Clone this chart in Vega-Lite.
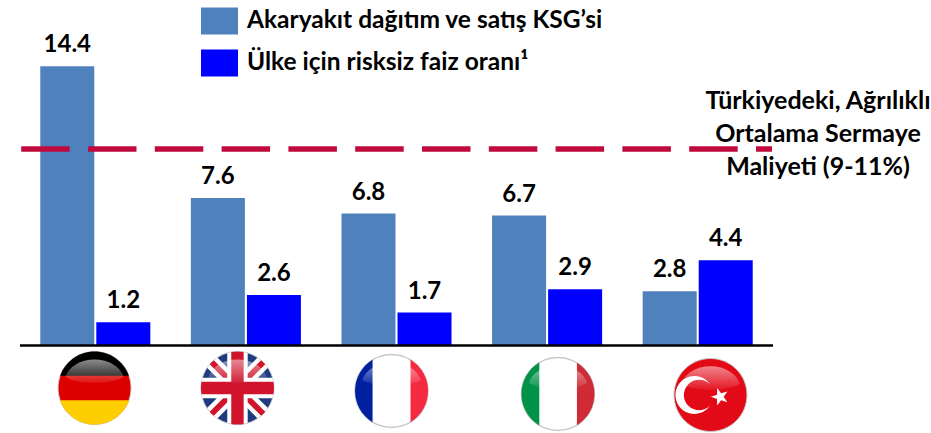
{
"$schema":"https://vega.github.io/schema/vega-lite/v6.json",
"width":753,"height":433,
"autosize":"none",
"padding":{"left":20,"right":158,"top":0,"bottom":0},
"background":"white",
"config":{"view":{"stroke":null},"text":{"font":"Lato"},"legend":{"labelFont":"Lato"}},
"datasets":{
"bars":[
{"country":"Almanya","series":"Akaryakıt dağıtım ve satış KSG’si","value":14.4},
{"country":"Almanya","series":"Ülke için risksiz faiz oranı¹","value":1.2},
{"country":"Birleşik Krallık","series":"Akaryakıt dağıtım ve satış KSG’si","value":7.6},
{"country":"Birleşik Krallık","series":"Ülke için risksiz faiz oranı¹","value":2.6},
{"country":"Fransa","series":"Akaryakıt dağıtım ve satış KSG’si","value":6.8},
{"country":"Fransa","series":"Ülke için risksiz faiz oranı¹","value":1.7},
{"country":"İtalya","series":"Akaryakıt dağıtım ve satış KSG’si","value":6.7},
{"country":"İtalya","series":"Ülke için risksiz faiz oranı¹","value":2.9},
{"country":"Türkiye","series":"Akaryakıt dağıtım ve satış KSG’si","value":2.8},
{"country":"Türkiye","series":"Ülke için risksiz faiz oranı¹","value":4.4}
]},
"layer":[
{"data":{"name":"bars"},
"mark":{"type":"bar"},
"encoding":{
"x":{"field":"country","type":"nominal","axis":null,"scale":{"type":"band","domain":["Almanya","Birleşik Krallık","Fransa","İtalya","Türkiye"],"paddingInner":0,"paddingOuter":0}},
"xOffset":{"field":"series","type":"nominal","scale":{"domain":["Akaryakıt dağıtım ve satış KSG’si","Ülke için risksiz faiz oranı¹"],"paddingInner":0.036,"paddingOuter":0.362}},
"y":{"field":"value","type":"quantitative","stack":null,"axis":null,"scale":{"domain":[-4.51,17.81],"nice":false,"zero":false}},
"color":{"field":"series","type":"nominal","scale":{"domain":["Akaryakıt dağıtım ve satış KSG’si","Ülke için risksiz faiz oranı¹"],"range":["#4F81BD","#0000FF"]},
"legend":{"title":null,"orient":"none","legendX":181,"legendY":6,"symbolType":"M-1,-0.73H1V0.73H-1Z","symbolSize":1369,"symbolStrokeWidth":0,"symbolOpacity":1,"labelFontSize":24.5,"labelFontWeight":"bold","labelColor":"#000000","labelFont":"Lato","labelLimit":500,"labelOffset":9,"rowPadding":12,"clipHeight":30}}
}},
{"data":{"name":"bars"},
"mark":{"type":"text","font":"Lato","fontWeight":"bold","fontSize":24,"color":"#000000","baseline":"middle","dy":-21},
"encoding":{
"x":{"field":"country","type":"nominal"},
"xOffset":{"field":"series","type":"nominal"},
"y":{"field":"value","type":"quantitative","stack":null},
"text":{"field":"value","type":"quantitative","format":".1f"}
}},
{"data":{"values":[{"level":0}]},
"mark":{"type":"rule","color":"#000000","strokeWidth":2.5},
"encoding":{"y":{"field":"level","type":"quantitative"}}},
{"data":{"values":[{"level":10.13}]},
"mark":{"type":"rule","color":"#C00A3E","strokeWidth":5.5,"strokeDash":[0,1,16,18.3,48.5,18.3,48.5,18.3,48.5,18.3,48.5,18.3,48.5,18.3,48.5,18.3,48.5,18.3,48.5,18.3,48.5,18.3,48.5,18.3,48.5,18.3]},
"encoding":{"y":{"field":"level","type":"quantitative"}}},
{"data":{"values":[{"country":"Türkiye","level":12.62}]},
"mark":{"type":"text","font":"Lato","fontWeight":"bold","fontSize":25,"color":"#000000","align":"center","baseline":"middle","lineHeight":33,"dx":45,
"text":["Türkiyedeki, Ağrılıklı","Ortalama Sermaye","Maliyeti (9-11%)"]},
"encoding":{"x":{"field":"country","type":"nominal","bandPosition":1},"y":{"field":"level","type":"quantitative"}}},

{"data":{"values":[{"country":"Almanya","level":-2.19}]},
"encoding":{"x":{"field":"country","type":"nominal","bandPosition":0.495},"y":{"field":"level","type":"quantitative"}},
"layer":[
{"mark":{"type":"point","shape":"M-1,0 A1,1 0 1 1 1,0 A1,1 0 1 1 -1,0 Z","size":5329,"filled":true,"opacity":1,"fill":"#DD0000","stroke":"#c8c8c8","strokeWidth":1}},
{"mark":{"type":"point","shape":"M-0.943,-0.333 A1,1 0 0 1 0.943,-0.333 Z","size":5329,"filled":true,"opacity":1,"fill":"#000000","strokeWidth":0}},
{"mark":{"type":"point","shape":"M-0.943,0.333 A1,1 0 0 0 0.943,0.333 Z","size":5329,"filled":true,"opacity":1,"fill":"#FFCE00","strokeWidth":0}},
{"mark":{"type":"point","shape":"M-0.8,-0.3 A0.82,0.62 0 0 1 0.8,-0.3 A0.9,0.3 0 0 1 -0.8,-0.3 Z","size":5329,"filled":true,"opacity":1,"strokeWidth":0,"fill":{"gradient":"linear","x1":0,"y1":0,"x2":0,"y2":1,"stops":[{"offset":0,"color":"rgba(255,255,255,0.55)"},{"offset":1,"color":"rgba(255,255,255,0.08)"}]}}}
]},

{"data":{"values":[{"country":"Birleşik Krallık","level":-2.19}]},
"encoding":{"x":{"field":"country","type":"nominal","bandPosition":0.444},"y":{"field":"level","type":"quantitative"}},
"layer":[
{"mark":{"type":"point","shape":"M-1,0 A1,1 0 1 1 1,0 A1,1 0 1 1 -1,0 Z","size":5329,"filled":true,"opacity":1,"fill":"#1F3A7F","stroke":"#c8c8c8","strokeWidth":1}},
{"mark":{"type":"point","shape":"M0.5515,-0.8344 A1,1 0 0 1 0.8344,-0.5515 L-0.5515,0.8344 A1,1 0 0 1 -0.8344,0.5515 Z M-0.5515,-0.8344 A1,1 0 0 0 -0.8344,-0.5515 L0.5515,0.8344 A1,1 0 0 0 0.8344,0.5515 Z","size":5329,"filled":true,"opacity":1,"fill":"#FFFFFF","strokeWidth":0}},
{"mark":{"type":"point","shape":"M0.6483,-0.7615 A1,1 0 0 1 0.7615,-0.6483 L-0.6483,0.7615 A1,1 0 0 1 -0.7615,0.6483 Z M-0.6483,-0.7615 A1,1 0 0 0 -0.7615,-0.6483 L0.6483,0.7615 A1,1 0 0 0 0.7615,0.6483 Z","size":5329,"filled":true,"opacity":1,"fill":"#CF142B","strokeWidth":0}},
{"mark":{"type":"point","shape":"M-0.28,-0.96 A1,1 0 0 1 0.28,-0.96 L0.28,0.96 A1,1 0 0 1 -0.28,0.96 Z M-0.96,-0.28 L0.96,-0.28 A1,1 0 0 1 0.96,0.28 L-0.96,0.28 A1,1 0 0 1 -0.96,-0.28 Z","size":5329,"filled":true,"opacity":1,"fill":"#FFFFFF","strokeWidth":0}},
{"mark":{"type":"point","shape":"M-0.17,-0.985 A1,1 0 0 1 0.17,-0.985 L0.17,0.985 A1,1 0 0 1 -0.17,0.985 Z M-0.985,-0.17 L0.985,-0.17 A1,1 0 0 1 0.985,0.17 L-0.985,0.17 A1,1 0 0 1 -0.985,-0.17 Z","size":5329,"filled":true,"opacity":1,"fill":"#CF142B","strokeWidth":0}},
{"mark":{"type":"point","shape":"M-0.8,-0.3 A0.82,0.62 0 0 1 0.8,-0.3 A0.9,0.3 0 0 1 -0.8,-0.3 Z","size":5329,"filled":true,"opacity":1,"strokeWidth":0,"fill":{"gradient":"linear","x1":0,"y1":0,"x2":0,"y2":1,"stops":[{"offset":0,"color":"rgba(255,255,255,0.5)"},{"offset":1,"color":"rgba(255,255,255,0.05)"}]}}}
]},

{"data":{"values":[{"country":"Fransa","level":-2.345}]},
"encoding":{"x":{"field":"country","type":"nominal","bandPosition":0.467},"y":{"field":"level","type":"quantitative"}},
"layer":[
{"mark":{"type":"point","shape":"M-1,0 A1,1 0 1 1 1,0 A1,1 0 1 1 -1,0 Z","size":5329,"filled":true,"opacity":1,"fill":"#FFFFFF","stroke":"#c8c8c8","strokeWidth":1.5}},
{"mark":{"type":"point","shape":"M-0.52,-0.854 A1,1 0 0 0 -0.52,0.854 Z","size":5329,"filled":true,"opacity":1,"fill":"#00209F","strokeWidth":0}},
{"mark":{"type":"point","shape":"M0.52,-0.854 A1,1 0 0 1 0.52,0.854 Z","size":5329,"filled":true,"opacity":1,"fill":"#F42A41","strokeWidth":0}},
{"mark":{"type":"point","shape":"M-0.8,-0.3 A0.82,0.62 0 0 1 0.8,-0.3 A0.9,0.3 0 0 1 -0.8,-0.3 Z","size":5329,"filled":true,"opacity":1,"strokeWidth":0,"fill":{"gradient":"linear","x1":0,"y1":0,"x2":0,"y2":1,"stops":[{"offset":0,"color":"rgba(255,255,255,0.5)"},{"offset":1,"color":"rgba(255,255,255,0.05)"}]}}}
]},

{"data":{"values":[{"country":"İtalya","level":-2.5}]},
"encoding":{"x":{"field":"country","type":"nominal","bandPosition":0.572},"y":{"field":"level","type":"quantitative"}},
"layer":[
{"mark":{"type":"point","shape":"M-1,0 A1,1 0 1 1 1,0 A1,1 0 1 1 -1,0 Z","size":5329,"filled":true,"opacity":1,"fill":"#FFFFFF","stroke":"#c8c8c8","strokeWidth":1.5}},
{"mark":{"type":"point","shape":"M-0.51,-0.86 A1,1 0 0 0 -0.51,0.86 Z","size":5329,"filled":true,"opacity":1,"fill":"#009246","strokeWidth":0}},
{"mark":{"type":"point","shape":"M0.52,-0.854 A1,1 0 0 1 0.52,0.854 Z","size":5329,"filled":true,"opacity":1,"fill":"#CE2B37","strokeWidth":0}},
{"mark":{"type":"point","shape":"M-0.8,-0.3 A0.82,0.62 0 0 1 0.8,-0.3 A0.9,0.3 0 0 1 -0.8,-0.3 Z","size":5329,"filled":true,"opacity":1,"strokeWidth":0,"fill":{"gradient":"linear","x1":0,"y1":0,"x2":0,"y2":1,"stops":[{"offset":0,"color":"rgba(255,255,255,0.5)"},{"offset":1,"color":"rgba(255,255,255,0.05)"}]}}}
]},

{"data":{"values":[{"country":"Türkiye","level":-2.55}]},
"encoding":{"x":{"field":"country","type":"nominal","bandPosition":0.585},"y":{"field":"level","type":"quantitative"}},
"layer":[
{"mark":{"type":"point","shape":"M-1,0 A1,1 0 1 1 1,0 A1,1 0 1 1 -1,0 Z","size":5329,"filled":true,"opacity":1,"fill":"#E30A17","stroke":"#c8c8c8","strokeWidth":1}},
{"mark":{"type":"point","shape":"M-0.0135,-0.2975 A0.52,0.52 0 1 0 -0.0135,0.2975 A0.42,0.42 0 1 1 -0.0135,-0.2975 Z","size":5329,"filled":true,"opacity":1,"fill":"#FFFFFF","strokeWidth":0}},
{"mark":{"type":"point","shape":"M0.01,0.05 L0.1791,-0.0088 L0.1827,-0.1878 L0.2909,-0.0451 L0.4623,-0.0969 L0.36,0.05 L0.4623,0.1969 L0.2909,0.1451 L0.1827,0.2878 L0.1791,0.1088 Z","size":5329,"filled":true,"opacity":1,"fill":"#FFFFFF","strokeWidth":0}},
{"mark":{"type":"point","shape":"M-0.8,-0.3 A0.82,0.62 0 0 1 0.8,-0.3 A0.9,0.3 0 0 1 -0.8,-0.3 Z","size":5329,"filled":true,"opacity":1,"strokeWidth":0,"fill":{"gradient":"linear","x1":0,"y1":0,"x2":0,"y2":1,"stops":[{"offset":0,"color":"rgba(255,255,255,0.5)"},{"offset":1,"color":"rgba(255,255,255,0.05)"}]}}}
]}
]
}
